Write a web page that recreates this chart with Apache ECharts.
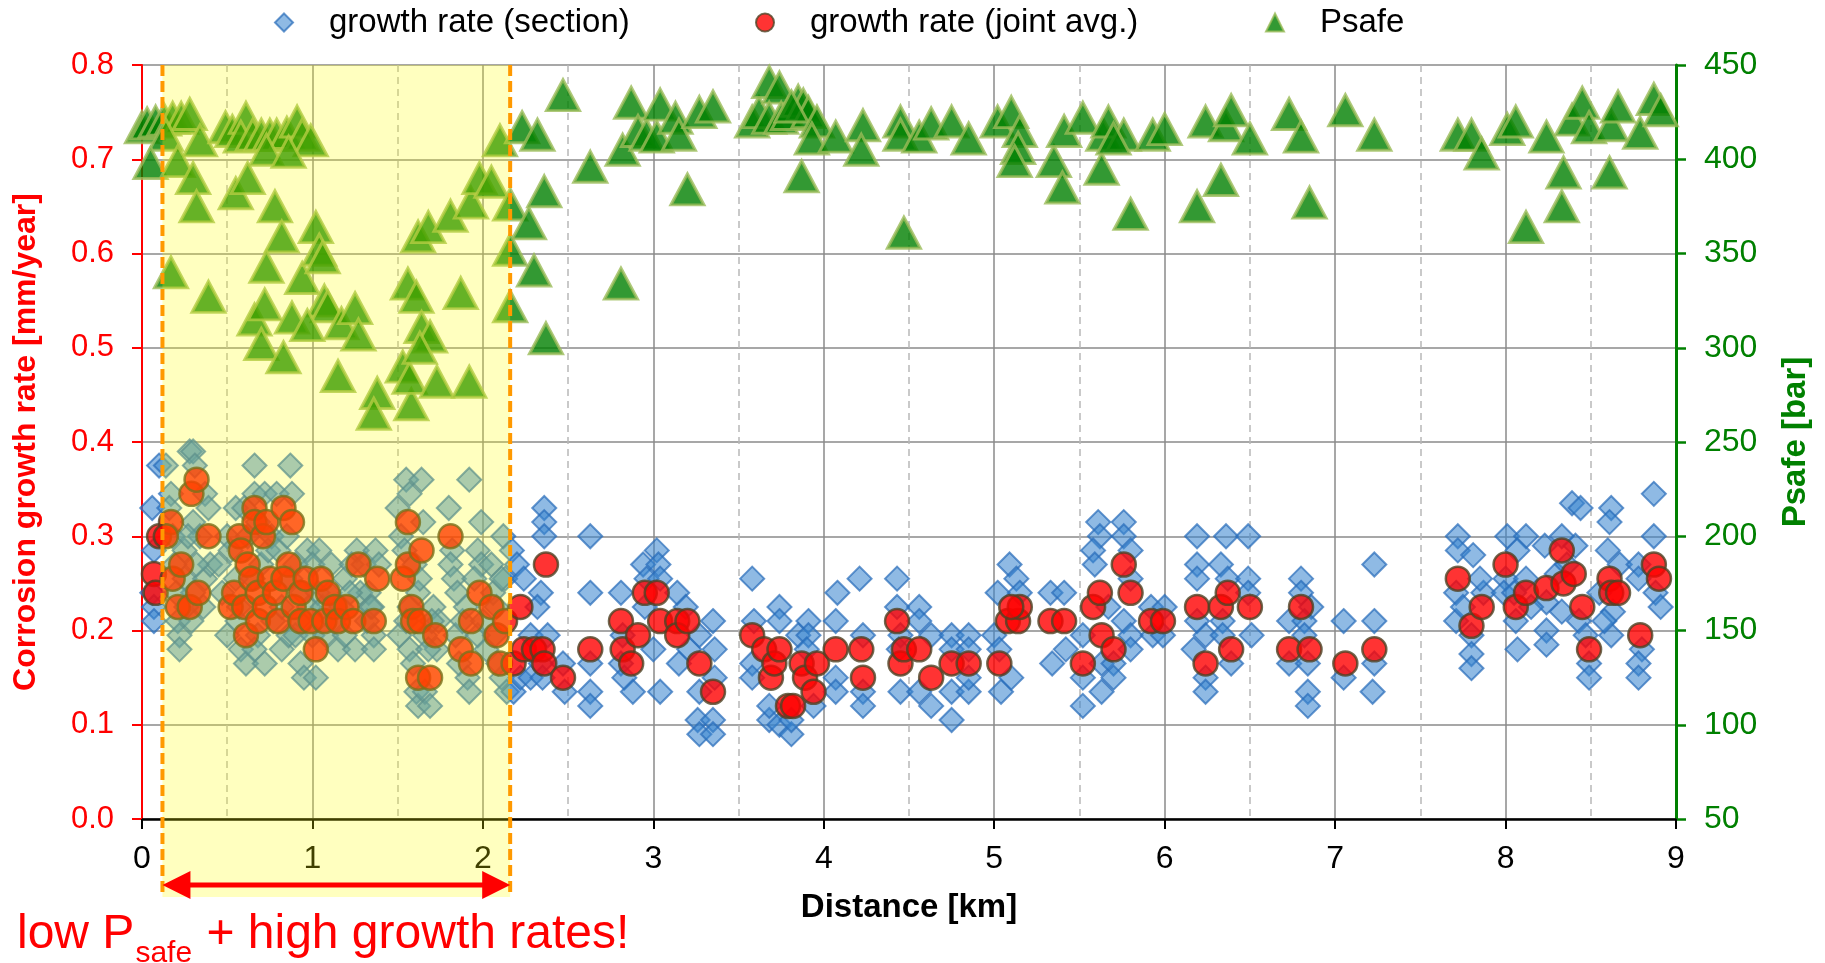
<!DOCTYPE html>
<html lang="en">
<head>
  <meta charset="UTF-8">
  <title>Corrosion growth rate vs Psafe</title>
  <style>
    html, body { margin: 0; padding: 0; background: #fff; }
    #chart { width: 1825px; height: 963px; }
  </style>
</head>
<body>
  <div id="chart"></div>
  <script src="https://cdn.jsdelivr.net/npm/echarts@6/dist/echarts.min.js"></script>
  <script>
    // [distance km, growth rate mm/year] for each section
    const sectionPts = [
      [0.06,0.33],[0.07,0.285],[0.06,0.24],[0.07,0.225],[0.07,0.21],[0.10,0.375],
      [0.14,0.375],[0.17,0.345],[0.16,0.33],[0.18,0.3],[0.21,0.21],[0.22,0.195],[0.22,0.18],[0.25,0.285],[0.25,0.255],
      [0.28,0.39],[0.30,0.39],[0.31,0.375],[0.30,0.315],[0.29,0.21],[0.37,0.345],[0.39,0.33],[0.37,0.255],[0.36,0.225],
      [0.40,0.27],[0.50,0.195],[0.55,0.33],[0.56,0.21],[0.58,0.18],[0.61,0.165],[0.66,0.375],[0.66,0.345],[0.72,0.345],
      [0.72,0.165],[0.68,0.195],[0.66,0.18],[0.79,0.345],[0.82,0.18],[0.87,0.375],[0.88,0.345],[0.86,0.195],[0.90,0.195],
      [0.93,0.165],[0.95,0.15],[1.02,0.15],[0.97,0.285],[1.04,0.285],[1.00,0.27],[1.11,0.27],[1.15,0.18],[1.19,0.255],
      [1.25,0.18],[1.26,0.285],[1.37,0.285],[1.36,0.195],[1.36,0.18],[1.28,0.24],[1.33,0.24],[1.34,0.225],[1.50,0.33],
      [1.55,0.36],[1.64,0.36],[1.57,0.345],[1.51,0.195],[1.57,0.18],[1.59,0.165],[1.61,0.135],[1.62,0.12],[1.66,0.135],
      [1.69,0.12],[1.65,0.315],[1.71,0.225],[1.74,0.21],[1.73,0.18],[1.80,0.33],[1.82,0.285],[1.81,0.27],[1.84,0.195],
      [1.86,0.165],[1.91,0.15],[1.92,0.36],[1.92,0.135],[1.99,0.315],[1.97,0.285],[1.99,0.27],[2.05,0.27],[2.06,0.24],
      [2.08,0.225],[2.12,0.3],[2.11,0.15],[2.14,0.135],[2.13,0.255],
      [0.45,0.27],[0.47,0.24],[0.50,0.3],[0.52,0.285],[0.55,0.255],[0.57,0.225],[0.60,0.33],[0.62,0.3],[0.65,0.255],
      [0.68,0.315],[0.70,0.27],[0.74,0.285],[0.76,0.3],[0.77,0.21],[0.80,0.285],[0.82,0.225],[0.85,0.3],[0.87,0.255],
      [0.90,0.27],[0.92,0.21],[0.94,0.24],[0.98,0.225],[1.00,0.195],[1.03,0.24],[1.06,0.225],[1.08,0.195],[1.10,0.24],
      [1.12,0.21],[1.17,0.225],[1.19,0.195],[1.22,0.24],[1.23,0.27],[1.30,0.27],[1.32,0.21],[1.35,0.225],[1.39,0.27],
      [0.26,0.225],[0.30,0.24],[0.32,0.27],[0.34,0.3],[0.27,0.3],[0.20,0.24],[0.19,0.27],
      [1.52,0.3],[1.54,0.285],[1.55,0.21],[1.57,0.225],[1.60,0.27],[1.62,0.24],[1.63,0.255],[1.66,0.195],[1.68,0.18],
      [1.70,0.21],[1.83,0.255],[1.85,0.24],[1.88,0.21],[1.90,0.225],[1.95,0.255],[1.97,0.195],[2.00,0.21],[2.02,0.18],
      [2.07,0.195],[2.09,0.165],[2.11,0.255],
      [2.17,0.285],[2.20,0.27],[2.24,0.255],[2.18,0.135],[2.22,0.15],[2.28,0.15],[2.36,0.33],[2.36,0.315],[2.36,0.3],
      [2.34,0.24],[2.32,0.225],[2.28,0.195],[2.34,0.165],[2.38,0.195],[2.35,0.15],[2.47,0.165],[2.48,0.135],
      [2.63,0.3],[2.63,0.24],[2.63,0.165],[2.63,0.135],[2.63,0.12],[2.81,0.24],[2.82,0.195],[2.81,0.165],[2.83,0.15],
      [2.88,0.135],[2.94,0.27],[2.96,0.255],[3.02,0.285],[3.03,0.27],[3.04,0.255],[2.95,0.225],[3.00,0.18],[3.04,0.135],
      [3.14,0.24],[3.19,0.225],[3.15,0.165],[3.21,0.18],[3.27,0.195],[3.27,0.135],[3.26,0.105],[3.27,0.09],[3.35,0.105],
      [3.35,0.09],[3.35,0.21],[3.36,0.18],[3.36,0.15],[3.58,0.255],[3.59,0.21],[3.58,0.165],[3.58,0.15],[3.68,0.105],
      [3.68,0.12],[3.74,0.225],[3.74,0.21],[3.74,0.1],[3.81,0.09],[3.81,0.105],[3.85,0.195],[3.91,0.21],[3.91,0.195],
      [3.94,0.12],[3.90,0.18],[4.08,0.24],[4.07,0.21],[4.07,0.15],[4.07,0.135],[4.21,0.255],[4.23,0.195],[4.23,0.135],
      [4.23,0.12],[4.43,0.255],[4.43,0.225],[4.45,0.195],[4.44,0.18],[4.45,0.135],[4.56,0.225],[4.56,0.21],[4.56,0.135],
      [4.63,0.195],[4.63,0.12],[4.75,0.195],[4.75,0.18],[4.75,0.105],[4.75,0.135],[4.85,0.195],[4.85,0.18],[4.85,0.135],
      [4.85,0.15],[5.09,0.27],[5.13,0.255],[5.15,0.24],[5.02,0.24],[5.00,0.195],[5.03,0.18],[5.04,0.135],[5.10,0.15],
      [5.33,0.24],[5.34,0.165],[5.41,0.24],[5.42,0.18],[5.52,0.195],[5.52,0.15],[5.52,0.12],[5.61,0.315],[5.62,0.3],
      [5.58,0.285],[5.59,0.27],[5.63,0.165],[5.63,0.135],
      [5.76,0.315],[5.76,0.3],[5.80,0.285],[5.80,0.255],[5.67,0.225],[5.76,0.21],[5.80,0.195],[5.80,0.18],[5.70,0.165],
      [5.70,0.15],[5.92,0.225],[5.93,0.195],[6.00,0.225],[5.99,0.195],[6.19,0.3],[6.19,0.27],[6.19,0.255],[6.19,0.21],
      [6.17,0.18],[6.24,0.15],[6.24,0.135],[6.24,0.195],[6.36,0.3],[6.33,0.27],[6.37,0.255],[6.34,0.21],[6.34,0.195],
      [6.39,0.165],[6.49,0.3],[6.49,0.255],[6.49,0.24],[6.51,0.195],[6.73,0.21],[6.73,0.165],[6.80,0.255],[6.80,0.24],
      [6.86,0.225],[6.82,0.21],[6.82,0.195],[6.84,0.165],[6.84,0.135],[6.84,0.12],[7.05,0.21],[7.05,0.15],[7.23,0.27],
      [7.23,0.21],[7.23,0.165],[7.22,0.135],[7.72,0.3],[7.72,0.285],[7.81,0.28],[7.71,0.24],[7.71,0.21],[7.80,0.195],
      [7.80,0.175],[7.80,0.16],[7.87,0.24],[8.01,0.3],[8.12,0.3],[8.07,0.285],[8.00,0.255],[7.99,0.24],[8.12,0.255],
      [8.06,0.21],[8.07,0.18],[8.23,0.29],[8.24,0.23],[8.24,0.2],[8.24,0.185],[8.39,0.335],[8.44,0.33],[8.33,0.3],
      [8.41,0.29],[8.33,0.22],[8.43,0.21],[8.47,0.195],[8.49,0.165],[8.49,0.15],[8.62,0.33],[8.61,0.315],[8.60,0.285],
      [8.67,0.27],[8.62,0.195],[8.63,0.22],[8.78,0.27],[8.78,0.255],[8.80,0.18],[8.78,0.165],[8.78,0.15],[8.87,0.345],
      [8.87,0.3],[8.88,0.24],[8.91,0.225],[8.30,0.26],[8.36,0.27],[8.55,0.24],[8.58,0.21],[8.05,0.24],[8.15,0.225],
      [7.75,0.225],[7.85,0.255]
    ];

    // [distance km, growth rate mm/year], joint average
    const jointPts = [
      [0.07,0.26],[0.08,0.24],[0.10,0.3],[0.17,0.315],[0.14,0.3],[0.18,0.255],[0.23,0.27],[0.21,0.225],[0.28,0.225],
      [0.33,0.24],[0.29,0.345],[0.32,0.36],[0.39,0.3],[0.52,0.225],[0.54,0.24],[0.57,0.3],[0.58,0.285],[0.62,0.27],
      [0.60,0.225],[0.61,0.195],[0.64,0.255],[0.66,0.33],[0.66,0.315],[0.71,0.3],[0.73,0.315],[0.68,0.24],[0.68,0.21],
      [0.72,0.225],[0.75,0.255],[0.78,0.24],[0.80,0.21],[0.83,0.33],[0.86,0.27],[0.88,0.315],[0.83,0.255],[0.89,0.225],
      [0.93,0.24],[0.96,0.255],[0.93,0.21],[0.99,0.21],[1.02,0.18],[1.05,0.255],[1.07,0.21],[1.09,0.24],[1.13,0.225],
      [1.15,0.21],[1.20,0.225],[1.24,0.21],[1.27,0.27],[1.36,0.21],[1.38,0.255],[1.53,0.255],[1.56,0.315],[1.56,0.27],
      [1.58,0.225],[1.59,0.21],[1.63,0.21],[1.64,0.285],[1.62,0.15],[1.69,0.15],[1.72,0.195],[1.81,0.3],[1.87,0.18],
      [1.93,0.21],[1.93,0.165],[1.98,0.24],[2.05,0.225],[2.08,0.195],[2.10,0.165],[2.13,0.21],[2.18,0.165],[2.22,0.225],
      [2.24,0.18],[2.30,0.18],[2.35,0.18],[2.36,0.165],[2.37,0.27],
      [2.47,0.15],[2.63,0.18],[2.81,0.21],[2.82,0.18],[2.87,0.165],[2.91,0.195],[2.95,0.24],[3.02,0.24],[3.04,0.21],
      [3.14,0.21],[3.14,0.195],[3.20,0.21],[3.27,0.165],[3.35,0.135],[3.58,0.195],[3.65,0.18],[3.69,0.15],[3.71,0.165],
      [3.74,0.18],[3.79,0.12],[3.82,0.12],[3.87,0.165],[3.89,0.15],[3.94,0.135],[3.96,0.165],[4.07,0.18],[4.22,0.18],
      [4.23,0.15],[4.43,0.21],[4.45,0.165],[4.47,0.18],[4.56,0.18],[4.63,0.15],[4.75,0.165],[4.85,0.165],[5.03,0.165],
      [5.08,0.21],[5.14,0.21],[5.15,0.225],[5.10,0.225],[5.33,0.21],[5.41,0.21],[5.52,0.165],[5.58,0.225],[5.62,0.24],
      [5.63,0.195],[5.70,0.18],[5.76,0.27],[5.80,0.24],[5.92,0.21],[5.99,0.21],[6.19,0.225],[6.24,0.165],[6.33,0.225],
      [6.37,0.24],[6.39,0.18],[6.50,0.225],[6.73,0.18],[6.80,0.225],[6.85,0.18],[7.06,0.165],[7.23,0.18],[7.72,0.255],
      [7.80,0.205],[7.86,0.225],[8.00,0.27],[8.06,0.225],[8.12,0.24],[8.24,0.245],[8.33,0.285],[8.34,0.25],[8.40,0.26],
      [8.45,0.225],[8.49,0.18],[8.61,0.255],[8.62,0.24],[8.66,0.24],[8.79,0.195],[8.87,0.27],[8.90,0.255]
    ];

    // [distance km, Psafe bar]
    const psafePts = [
      [0.00,417],[0.03,419],[0.08,420],[0.13,421],[0.18,422],[0.23,422],[0.28,424],[0.14,413],[0.34,410],[0.05,398],
      [0.21,399],[0.30,390],[0.32,375],[0.17,340],[0.39,327],
      [0.49,417],[0.53,415],[0.61,422],[0.58,412],[0.65,413],[0.70,413],[0.75,413],[0.79,413],[0.85,414],[0.91,420],
      [0.94,413],[0.99,410],[0.73,405],[0.86,404],[0.55,382],[0.62,390],[0.78,375],[0.82,359],[0.73,343],[0.94,337],
      [1.02,364],[1.04,352],[1.06,348],[1.07,325],[1.09,322],[0.66,315],[0.72,323],[0.70,302],[0.83,295],[0.88,316],
      [0.97,312],[1.15,285],[1.17,313],[1.25,321],[1.27,307],[1.38,276],[1.36,265],[1.58,270],[1.53,290],[1.57,284],
      [1.56,334],[1.61,327],[1.64,311],[1.69,306],[1.63,300],[1.73,282],[1.92,282],[1.87,329],[1.62,359],[1.68,364],
      [1.81,370],[1.93,377],[1.98,390],[2.05,388],[2.10,410],[2.16,376],[2.27,366],[2.16,352],[2.30,341],[2.16,322],
      [2.23,417],[2.32,413],[2.36,383],[2.37,305],
      [2.47,434],[2.63,396],[2.81,334],[2.82,405],[2.87,430],[2.91,415],[2.96,413],[3.02,412],[3.04,429],[3.13,422],
      [3.15,413],[3.20,384],[3.27,425],[3.35,428],[3.58,420],[3.62,425],[3.68,441],[3.74,438],[3.68,422],[3.75,422],
      [3.79,424],[3.85,431],[3.88,429],[3.91,425],[3.81,428],[3.96,420],[3.93,411],[3.87,391],[4.07,412],[4.23,418],
      [4.22,405],[4.45,420],[4.45,413],[4.56,412],[4.63,419],[4.75,420],[4.85,411],[4.47,361],[5.02,420],[5.10,425],
      [5.15,415],[5.14,406],[5.12,399],[5.35,399],[5.41,415],[5.52,422],[5.40,385],[5.64,413],
      [5.67,420],[5.63,395],[5.76,413],[5.70,411],[5.80,371],[5.93,413],[6.00,416],[6.19,375],[6.33,389],[6.24,420],
      [6.36,418],[6.39,426],[6.50,411],[6.73,424],[6.80,412],[6.85,377],[7.06,426],[7.23,413],[7.72,413],[7.80,413],
      [7.86,403],[8.01,416],[8.06,420],[8.24,412],[8.12,364],[8.33,375],[8.34,393],[8.39,421],[8.45,430],[8.49,417],
      [8.62,418],[8.66,428],[8.61,393],[8.79,414],[8.87,432],[8.91,426]
    ];

    const seriesNames = ['growth rate (section)', 'growth rate (joint avg.)', 'Psafe'];
    const bandKm = [0.12, 2.16];   // highlighted stretch
    const FONT = '"Liberation Sans", Arial, sans-serif';

    let chart = echarts.init(document.getElementById('chart'));

    function legendAt(name, left) {
      return {
        data: [name],
        left: left,
        top: 6,
        padding: 0,
        itemWidth: 18,
        itemHeight: 18,
        selectedMode: false,
        textStyle: { fontFamily: FONT, fontSize: 33, color: '#000', padding: [0, 0, 0, 31] }
      };
    }

    let option = {
      animation: false,
      backgroundColor: '#fff',
      legend: [
        legendAt(seriesNames[0], 274),
        legendAt(seriesNames[1], 755),
        legendAt(seriesNames[2], 1265)
      ],
      grid: { left: 142, right: 149, top: 65, bottom: 144, containLabel: false },
      xAxis: {
        type: 'value',
        min: 0,
        max: 9,
        interval: 1,
        name: 'Distance [km]',
        nameLocation: 'middle',
        nameGap: 72,
        nameTextStyle: { fontFamily: FONT, fontSize: 33, fontWeight: 'bold', color: '#000' },
        axisLine: { show: true, onZero: false, lineStyle: { color: '#000', width: 2.5 } },
        axisTick: { show: true, inside: false, length: 10, lineStyle: { color: '#000', width: 2 } },
        axisLabel: { fontFamily: FONT, fontSize: 32, color: '#000', margin: 24 },
        splitLine: { show: true, lineStyle: { color: '#8a8a8a', width: 1.5 } },
        minorTick: { show: false, splitNumber: 2 },
        minorSplitLine: { show: true, lineStyle: { color: '#b8b8b8', width: 1.5, type: [7, 5] } }
      },
      yAxis: [
        {
          type: 'value',
          min: 0,
          max: 0.8,
          interval: 0.1,
          position: 'left',
          name: 'Corrosion growth rate [mm/year]',
          nameLocation: 'middle',
          nameRotate: 90,
          nameGap: 100,
          nameTextStyle: { fontFamily: FONT, fontSize: 32, fontWeight: 'bold', color: '#ff0000' },
          axisLine: { show: true, lineStyle: { color: '#ff0000', width: 2 } },
          axisTick: { show: true, inside: false, length: 10, lineStyle: { color: '#ff0000', width: 2 } },
          axisLabel: {
            fontFamily: FONT, fontSize: 31, color: '#ff0000', margin: 28,
            formatter: function (v) { return v.toFixed(1); }
          },
          splitLine: { show: true, lineStyle: { color: '#8a8a8a', width: 1.5 } }
        },
        {
          type: 'value',
          min: 50,
          max: 450,
          interval: 50,
          position: 'right',
          name: 'Psafe [bar]',
          nameLocation: 'middle',
          nameRotate: 90,
          nameGap: 103,
          nameTextStyle: { fontFamily: FONT, fontSize: 33, fontWeight: 'bold', color: '#008000' },
          axisLine: { show: true, lineStyle: { color: '#008000', width: 3 } },
          axisTick: { show: true, inside: false, length: 10, lineStyle: { color: '#008000', width: 2.5 } },
          axisLabel: { fontFamily: FONT, fontSize: 32, color: '#008000', margin: 28 },
          splitLine: { show: false }
        }
      ],
      series: [
        {
          name: seriesNames[0],
          type: 'scatter',
          yAxisIndex: 0,
          symbol: 'diamond',
          symbolSize: [24, 24],
          itemStyle: { color: 'rgba(55,132,206,0.7)', borderColor: 'rgba(40,108,186,0.9)', borderWidth: 2 },
          data: sectionPts,
          z: 2
        },
        {
          name: seriesNames[1],
          type: 'scatter',
          yAxisIndex: 0,
          symbol: 'circle',
          symbolSize: 24,
          itemStyle: { color: '#ff0000', borderColor: '#4d4426', borderWidth: 2.5 },
          data: jointPts,
          z: 3
        },
        {
          name: seriesNames[2],
          type: 'scatter',
          yAxisIndex: 1,
          symbol: 'triangle',
          symbolSize: [33, 31],
          itemStyle: { color: '#008000', borderColor: '#9bbb59', borderWidth: 3 },
          data: psafePts,
          z: 4
        }
      ]
    };
    chart.setOption(option);

    // yellow band, dashed borders, arrow and note, placed from the axis scales
    function drawBand() {
      let x0 = chart.convertToPixel({ xAxisIndex: 0 }, bandKm[0]);
      let x1 = chart.convertToPixel({ xAxisIndex: 0 }, bandKm[1]);
      let yTop = chart.convertToPixel({ yAxisIndex: 0 }, 0.8);
      let yBot = chart.convertToPixel({ yAxisIndex: 0 }, 0);
      let arrowY = yBot + 66;
      let bandBottom = arrowY + 12;
      let head = 28, half = 14;

      let ctx = document.createElement('canvas').getContext('2d');
      ctx.font = '48px ' + FONT;
      let wLow = ctx.measureText('low P').width;
      ctx.font = '30px ' + FONT;
      let wSafe = ctx.measureText('safe').width;
      let noteX = 17;

      chart.setOption({
        graphic: [
          { type: 'rect', z: 100, silent: true,
            shape: { x: x0, y: yTop, width: x1 - x0, height: bandBottom - yTop },
            style: { fill: 'rgba(255,255,0,0.25)' } },
          { type: 'line', z: 101, silent: true,
            shape: { x1: x0, y1: yTop, x2: x0, y2: bandBottom },
            style: { stroke: '#ff9900', lineWidth: 4, lineDash: [11, 5] } },
          { type: 'line', z: 101, silent: true,
            shape: { x1: x1, y1: yTop, x2: x1, y2: bandBottom },
            style: { stroke: '#ff9900', lineWidth: 4, lineDash: [11, 5] } },
          { type: 'line', z: 102, silent: true,
            shape: { x1: x0 + head - 2, y1: arrowY, x2: x1 - head + 2, y2: arrowY },
            style: { stroke: '#ff0000', lineWidth: 5 } },
          { type: 'polygon', z: 102, silent: true,
            shape: { points: [[x0, arrowY], [x0 + head, arrowY - half], [x0 + head, arrowY + half]] },
            style: { fill: '#ff0000' } },
          { type: 'polygon', z: 102, silent: true,
            shape: { points: [[x1, arrowY], [x1 - head, arrowY - half], [x1 - head, arrowY + half]] },
            style: { fill: '#ff0000' } },
          { type: 'text', z: 102, silent: true,
            style: { text: 'low P', x: noteX, y: yBot + 116, font: '48px ' + FONT, fill: '#ff0000', verticalAlign: 'middle' } },
          { type: 'text', z: 102, silent: true,
            style: { text: 'safe', x: noteX + wLow + 1, y: yBot + 135, font: '30px ' + FONT, fill: '#ff0000', verticalAlign: 'middle' } },
          { type: 'text', z: 102, silent: true,
            style: { text: ' + high growth rates!', x: noteX + wLow + wSafe + 2, y: yBot + 116, font: '48px ' + FONT, fill: '#ff0000', verticalAlign: 'middle' } }
        ]
      });
    }
    drawBand();
  </script>
</body>
</html>
